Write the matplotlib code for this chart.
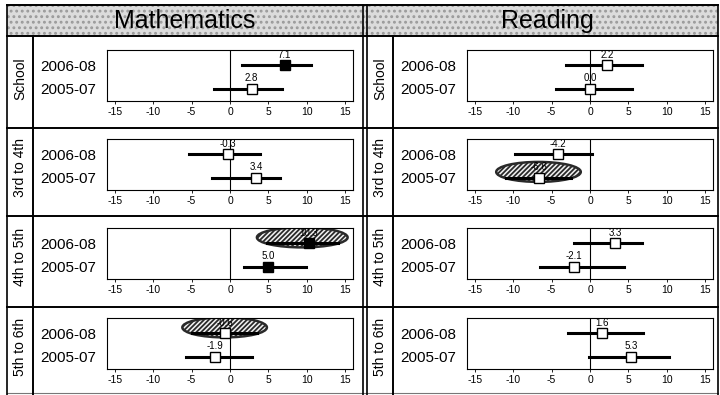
import matplotlib.pyplot as plt
from matplotlib.patches import Ellipse, Rectangle

plt.rcParams['font.family'] = ['Liberation Sans', 'DejaVu Sans']
plt.rcParams['hatch.linewidth'] = 1.3

# data
subjects = ["Mathematics", "Reading"]
grades = ["School", "3rd to 4th", "4th to 5th", "5th to 6th"]
years = ["2006-08", "2005-07"]
xticks = [-15, -10, -5, 0, 5, 10, 15]

# [grade][year] -> (2006-08, 2005-07)
math_est = [[7.1, 2.8], [-0.3, 3.4], [10.3, 5.0], [-0.6, -1.9]]
math_lo = [[1.6, -2.1], [-5.3, -2.3], [4.8, 1.8], [-4.9, -5.7]]
math_hi = [[10.6, 6.7], [3.9, 6.5], [14.0, 9.9], [3.5, 2.9]]
math_filled = [[True, False], [False, False], [True, True], [False, False]]
math_oval = [[False, False], [False, False], [True, False], [True, False]]

read_est = [[2.2, 0.0], [-4.2, -6.6], [3.3, -2.1], [1.6, 5.3]]
read_lo = [[-3.1, -4.4], [-9.7, -10.9], [-2.1, -6.5], [-2.9, -0.1]]
read_hi = [[6.7, 5.4], [0.3, -2.5], [6.7, 4.4], [6.9, 10.3]]
read_filled = [[False, False], [False, False], [False, False], [False, False]]
read_oval = [[False, False], [False, True], [False, False], [False, False]]

panels = [
    (math_est, math_lo, math_hi, math_filled, math_oval),
    (read_est, read_lo, read_hi, read_filled, read_oval),
]

W, H = 720, 395
fig = plt.figure(figsize=(7.2, 3.95), dpi=100)

# background layer in pixel coords
bg = fig.add_axes([0, 0, 1, 1])
bg.set_xlim(0, W)
bg.set_ylim(H, 0)
bg.axis('off')


def px_axes(x0, y0, x1, y1):
    return fig.add_axes([x0 / W, (H - y1) / H, (x1 - x0) / W, (y1 - y0) / H])


# header band
bg.add_patch(Rectangle((7, 5), 711, 31, facecolor='#dcdcdc', edgecolor='#9a9a9a',
                       hatch='...', lw=0, zorder=0))
title_x = [185, 547]
for s, tx in zip(subjects, title_x):
    bg.text(tx, 21, s, fontsize=18, ha='center', va='center')

# frame lines
for y in [5, 36, 128, 216, 307]:
    bg.plot([7, 718], [y, y], color='black', lw=1.4)
bg.plot([7, 718], [393, 393], color='#777777', lw=0.8)
for x in [7, 363, 367, 718]:
    bg.plot([x, x], [5, 395], color='black', lw=1.2)
for x in [33, 393]:
    bg.plot([x, x], [36, 395], color='black', lw=1.4)

row_tops = [50, 139, 228, 318]
ax_h = 51

for p, (est, lo, hi, filled, oval) in enumerate(panels):
    off = 360 * p
    for r, g in enumerate(grades):
        top = row_tops[r]
        ax = px_axes(107 + off, top, 353 + off, top + ax_h)
        ax.set_xlim(-16, 16)
        ax.set_ylim(0.48, 2.65)
        ax.axvline(0, color='black', lw=0.8, zorder=1)
        for j in range(len(years)):
            y = 2 - j
            e, l, h = est[r][j], lo[r][j], hi[r][j]
            if oval[r][j]:
                ax.add_patch(Ellipse(((l + h) / 2, y + 0.25), width=h - l + 2.6, height=0.85,
                                     facecolor='#f2f2f2', edgecolor='#2a2a2a', hatch='///////',
                                     lw=1.8, zorder=2))
            ax.plot([l, h], [y, y], color='black', lw=2.2, zorder=3)
            ax.plot(e, y, marker='s', ms=6.5, mec='black', mew=1,
                    mfc='black' if filled[r][j] else 'white', zorder=4)
            ax.annotate(f"{e:.1f}", (e, y), xytext=(0, 4), textcoords='offset points',
                        ha='center', va='bottom', fontsize=7, zorder=5)
        ax.set_yticks([2, 1])
        ax.set_yticklabels(years, fontsize=11)
        ax.tick_params(axis='y', length=0, pad=8)
        ax.set_xticks(xticks)
        ax.set_xticklabels([str(t) for t in xticks], fontsize=7.5)
        ax.tick_params(axis='x', length=2, pad=2, width=0.6)
        for sp in ax.spines.values():
            sp.set_linewidth(0.8)
        bg.text(20 + off, top + ax_h / 2 + 3, g, rotation=90, fontsize=10,
                ha='center', va='center')

fig.savefig('out.png', dpi=100)
